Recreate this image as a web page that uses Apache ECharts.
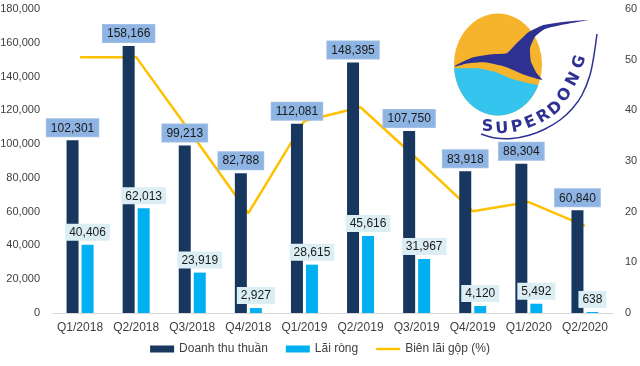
<!DOCTYPE html>
<html><head><meta charset="utf-8">
<script src="https://cdn.jsdelivr.net/npm/echarts@6/dist/echarts.min.js"></script>
<style>html,body{margin:0;padding:0;background:#fff}#c{width:640px;height:366px}</style>
</head><body><div id="c"></div>
<script>
const categories = ['Q1/2018','Q2/2018','Q3/2018','Q4/2018','Q1/2019','Q2/2019','Q3/2019','Q4/2019','Q1/2020','Q2/2020'];
const revenue = [102301,158166,99213,82788,112081,148395,107750,83918,88304,60840];
const netProfit = [40406,62013,23919,2927,28615,45616,31967,4120,5492,638];
const grossMargin = [50.5,50.5,35.2,19.7,37.9,40.6,30.5,20.1,21.9,17.2];
const leftTicks = {min:0,max:180000,interval:20000};
const rightTicks = {min:0,max:60,interval:10};

const F = 'Liberation Sans, Arial, sans-serif';
const fmt = v => v.toLocaleString('en-US');

// decorative logo
const cx=498, cy=64.5, rx=44, ry=51;
const cyanPts=[];
for(let i=0;i<=40;i++){const t=0.41+(Math.PI-0.069-0.41)*i/40;cyanPts.push([cx+rx*Math.cos(t),cy+ry*Math.sin(t)]);}
[[455,68.3],[478,68.3],[495,71.7],[512,79],[528,83],[538,85]].forEach(p=>cyanPts.push(p));
const bird=[[455,65.7],[471.7,57.7],[491.7,54.3],[506.7,53.3],[516.7,43.3],[528.3,32.3],[543.3,25],[565,21.7],[588.3,20],[565,24.3],[545,29],[535,36.7],[530,48.3],[531,61.7],[536.7,73.3],[542.3,80],[525,75],[505,66.7],[485,62.3],[468.3,63.3],[455,66.7]];
const letters=[['S',487.5,127,0],['U',502,129,-4],['P',517,127,-12],['E',530.5,122.5,-22],['R',543.5,116.5,-30],['D',555.5,108.5,-40],['O',565,95,-52],['N',573.5,79.5,-62],['G',579.5,62,-72]];
const graphic=[
 {type:'circle',x:cx,y:cy,scaleY:ry/rx,shape:{cx:0,cy:0,r:rx},style:{fill:'#f6b42c'},z:10},
 {type:'polygon',shape:{points:cyanPts},style:{fill:'#35c4ee'},z:11},
 {type:'polygon',shape:{points:bird,smooth:0.15},style:{fill:'#2e3192'},z:12},
 {type:'polyline',shape:{points:[[481,134],[495,138],[512,138.5],[530,135],[545,129],[560,120],[572,109],[582,95],[590,75],[594,55],[597,34]],smooth:0.3},style:{stroke:'#2e3192',lineWidth:1.5,fill:null},z:12}
];
letters.forEach(l=>graphic.push({type:'text',x:l[1],y:l[2],rotation:-l[3]*Math.PI/180,style:{text:l[0],fill:'#2e3192',font:'bold 16px DejaVu Sans',align:'center',verticalAlign:'middle'},z:13}));

const chart = echarts.init(document.getElementById('c'),null,{renderer:'canvas'});
chart.setOption({
 animation:false,
 textStyle:{fontFamily:F},
 grid:{left:52,right:27,top:9,bottom:53,containLabel:false,outerBoundsMode:'none'},
 legend:{bottom:6,left:'center',itemWidth:24,itemHeight:7,itemGap:18,
   textStyle:{fontSize:12,color:'#404040',fontFamily:F},
   data:[{name:'Doanh thu thuần',icon:'rect'},{name:'Lãi ròng',icon:'rect'},{name:'Biên lãi gộp (%)',icon:'path://M0,0L24,0L24,2.5L0,2.5Z'}]},
 xAxis:{type:'category',data:categories,axisTick:{show:false},
   axisLine:{lineStyle:{color:'#d9d9d9',width:1}},
   axisLabel:{color:'#404040',fontSize:12,margin:9,interval:0,fontFamily:F}},
 yAxis:[
  {type:'value',min:leftTicks.min,max:leftTicks.max,interval:leftTicks.interval,splitLine:{show:false},
   axisLabel:{color:'#404040',fontSize:11,margin:12,formatter:v=>fmt(v),fontFamily:F}},
  {type:'value',min:rightTicks.min,max:rightTicks.max,interval:rightTicks.interval,splitLine:{show:false},position:'right',
   axisLabel:{color:'#404040',fontSize:11,margin:12,fontFamily:F}}
 ],
 series:[
  {name:'Doanh thu thuần',type:'bar',data:revenue,barWidth:12,barGap:'25%',itemStyle:{color:'#17375e'},
   label:{show:true,position:'top',distance:4,formatter:p=>fmt(p.value),color:'#1a1a1a',fontSize:12,
     backgroundColor:'#8db4e2',borderColor:'#9fbfe6',borderWidth:1,padding:[3,4,2,4]},z:3},
  {name:'Lãi ròng',type:'bar',data:netProfit,barWidth:12,itemStyle:{color:'#00b0f0'},
   label:{show:true,position:'top',distance:4,formatter:p=>fmt(p.value),color:'#1a1a1a',fontSize:12,
     backgroundColor:'#dbeef4',padding:[3,4,2,4]},z:4},
  {name:'Biên lãi gộp (%)',type:'line',yAxisIndex:1,data:grossMargin,symbol:'none',
   lineStyle:{color:'#ffc000',width:2.5},itemStyle:{color:'#ffc000'},z:2}
 ],
 graphic:graphic
});
</script></body></html>
